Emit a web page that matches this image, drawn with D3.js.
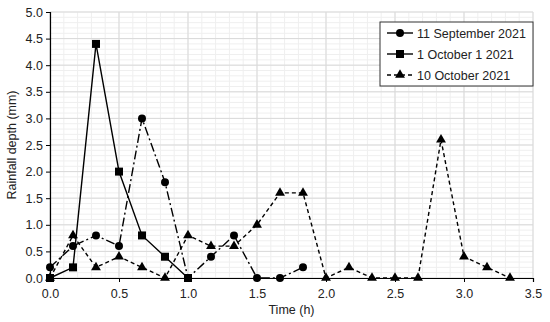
<!DOCTYPE html>
<html>
<head>
<meta charset="utf-8">
<script src="https://cdn.jsdelivr.net/npm/d3@7"></script>
<style>
  body { margin: 0; background: #fff; }
  svg { font-family: "Liberation Sans", Arial, sans-serif; }
</style>
</head>
<body>
<div id="chart"></div>
<script>
// Time steps (h), 10-minute intervals
const timeSep11 = [0, 1/6, 1/3, 0.5, 2/3, 5/6, 1, 7/6, 4/3, 1.5, 5/3, 11/6];
const rainSep11 = [0.2, 0.6, 0.8, 0.6, 3.0, 1.8, 0, 0.4, 0.8, 0, 0, 0.2];

const timeOct1 = [0, 1/6, 1/3, 0.5, 2/3, 5/6, 1];
const rainOct1 = [0, 0.2, 4.4, 2.0, 0.8, 0.4, 0];

const timeOct10 = [0, 1/6, 1/3, 0.5, 2/3, 5/6, 1, 7/6, 4/3, 1.5, 5/3, 11/6, 2, 13/6, 7/3, 2.5, 8/3, 17/6, 3, 19/6, 10/3];
const rainOct10 = [0, 0.8, 0.2, 0.4, 0.2, 0, 0.8, 0.6, 0.6, 1.0, 1.6, 1.6, 0, 0.2, 0, 0, 0, 2.6, 0.4, 0.2, 0];

const xTicks = [0, 0.5, 1.0, 1.5, 2.0, 2.5, 3.0, 3.5];
const yTicks = [0, 0.5, 1.0, 1.5, 2.0, 2.5, 3.0, 3.5, 4.0, 4.5, 5.0];

const seriesNames = ["11 September 2021", "1 October 1 2021", "10 October 2021"];

const W = 550, H = 322;
const margin = { left: 50, right: 17, top: 12, bottom: 44 };

const svg = d3.select("#chart").append("svg")
    .attr("width", W)
    .attr("height", H);

const x = d3.scaleLinear().domain([0, 3.5]).range([margin.left, W - margin.right]);
const y = d3.scaleLinear().domain([0, 5]).range([H - margin.bottom, margin.top]);

// minor grid
const minorX = d3.range(0, 3.5001, 0.1);
const minorY = d3.range(0, 5.0001, 0.1);
svg.append("g").selectAll("line").data(minorX).join("line")
    .attr("x1", d => x(d)).attr("x2", d => x(d))
    .attr("y1", y(0)).attr("y2", y(5))
    .attr("stroke", "#efefef").attr("stroke-width", 1);
svg.append("g").selectAll("line").data(minorY).join("line")
    .attr("x1", x(0)).attr("x2", x(3.5))
    .attr("y1", d => y(d)).attr("y2", d => y(d))
    .attr("stroke", "#efefef").attr("stroke-width", 1);

// major grid
svg.append("g").selectAll("line").data(xTicks).join("line")
    .attr("x1", d => x(d)).attr("x2", d => x(d))
    .attr("y1", y(0)).attr("y2", y(5))
    .attr("stroke", "#d9d9d9").attr("stroke-width", 1);
svg.append("g").selectAll("line").data(yTicks).join("line")
    .attr("x1", x(0)).attr("x2", x(3.5))
    .attr("y1", d => y(d)).attr("y2", d => y(d))
    .attr("stroke", "#d9d9d9").attr("stroke-width", 1);

// axes
const xAxis = svg.append("g")
    .attr("transform", `translate(0,${y(0)})`)
    .call(d3.axisBottom(x).tickValues(xTicks).tickFormat(d3.format(".1f")).tickSize(4));
const yAxis = svg.append("g")
    .attr("transform", `translate(${x(0)},0)`)
    .call(d3.axisLeft(y).tickValues(yTicks).tickFormat(d3.format(".1f")).tickSize(4));

[xAxis, yAxis].forEach(a => {
    a.select(".domain").attr("stroke", "#000").attr("stroke-width", 1.2);
    a.selectAll(".tick line").attr("stroke", "#000");
    a.selectAll("text").attr("font-size", 12.5).attr("fill", "#222")
        .style("font-family", "Liberation Sans, Arial, sans-serif");
});
xAxis.selectAll("text").attr("dy", "1.0em");

svg.append("text")
    .attr("x", x(1.75)).attr("y", 314)
    .attr("text-anchor", "middle")
    .attr("font-size", 12.5).attr("fill", "#222")
    .text("Time (h)");
svg.append("text")
    .attr("transform", `translate(16,${y(2.5)}) rotate(-90)`)
    .attr("text-anchor", "middle")
    .attr("font-size", 12.5).attr("fill", "#222")
    .text("Rainfall depth (mm)");

// series
const series = [
    { name: seriesNames[0], t: timeSep11, v: rainSep11, dash: "9,3,2,3", marker: "circle" },
    { name: seriesNames[1], t: timeOct1, v: rainOct1, dash: null, marker: "square" },
    { name: seriesNames[2], t: timeOct10, v: rainOct10, dash: "4,3", marker: "triangle" }
];

const symbolFor = {
    circle: d3.symbol().type(d3.symbolCircle).size(50),
    square: d3.symbol().type(d3.symbolSquare).size(64),
    triangle: d3.symbol().type(d3.symbolTriangle).size(42)
};

const line = d3.line().x(d => x(d[0])).y(d => y(d[1]));

series.forEach(s => {
    const pts = s.t.map((t, i) => [t, s.v[i]]);
    svg.append("path")
        .datum(pts)
        .attr("d", line)
        .attr("fill", "none")
        .attr("stroke", "#000")
        .attr("stroke-width", 1.4)
        .attr("stroke-dasharray", s.dash);
    svg.append("g").selectAll("path").data(pts).join("path")
        .attr("transform", d => `translate(${x(d[0])},${y(d[1])})`)
        .attr("d", symbolFor[s.marker])
        .attr("fill", "#000");
});

// legend
const legend = svg.append("g").attr("transform", "translate(380,22)");
legend.append("rect")
    .attr("width", 153).attr("height", 64)
    .attr("fill", "#fff").attr("stroke", "#333").attr("stroke-width", 1);
series.forEach((s, i) => {
    const gy = 11 + i * 21;
    legend.append("line")
        .attr("x1", 7).attr("x2", 33).attr("y1", gy).attr("y2", gy)
        .attr("stroke", "#000").attr("stroke-width", 1.4)
        .attr("stroke-dasharray", s.marker === "triangle" ? "4,3" : null);
    legend.append("path")
        .attr("transform", `translate(20,${gy})`)
        .attr("d", symbolFor[s.marker])
        .attr("fill", "#000");
    legend.append("text")
        .attr("x", 37).attr("y", gy + 4.5)
        .attr("font-size", 12.5).attr("fill", "#222")
        .text(s.name);
});
</script>
</body>
</html>
